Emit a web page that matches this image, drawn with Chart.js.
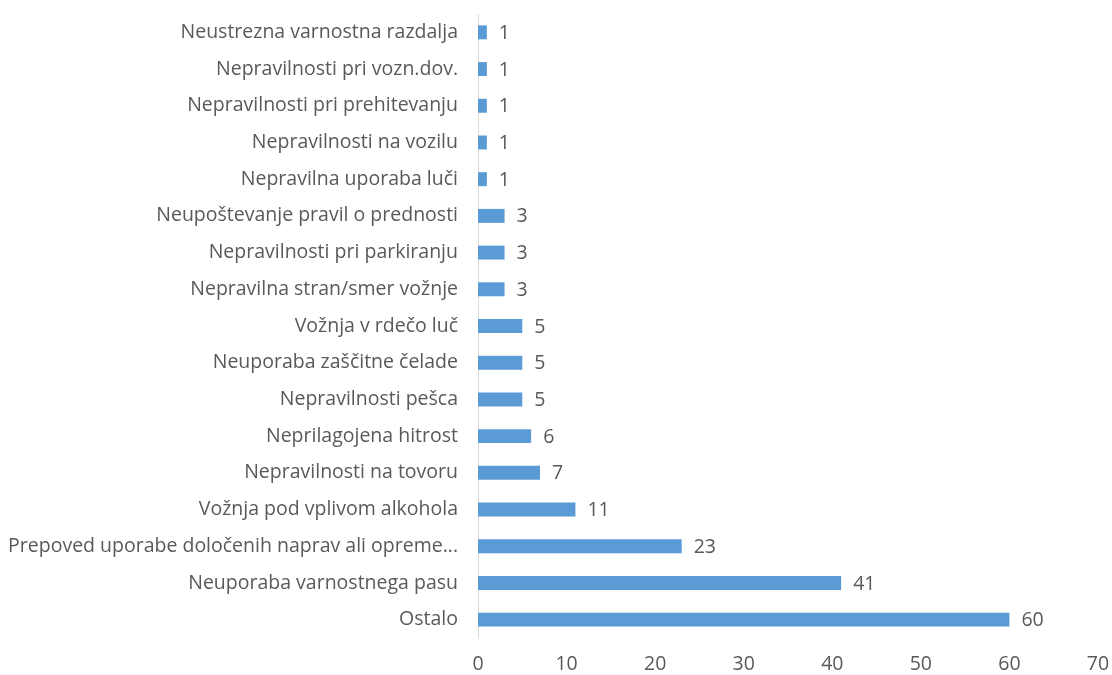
<!DOCTYPE html>
<html>
<head>
<meta charset="utf-8">
<script src="https://cdn.jsdelivr.net/npm/chart.js@4.4.0/dist/chart.umd.min.js"></script>
<style>
  html, body { margin: 0; padding: 0; background: #ffffff; }
  #wrap { width: 1112px; height: 675px; }
</style>
</head>
<body>
<div id="wrap"><canvas id="barChart" width="1112" height="675"></canvas></div>
<script>
var categories = [
  'Neustrezna varnostna razdalja',
  'Nepravilnosti pri vozn.dov.',
  'Nepravilnosti pri prehitevanju',
  'Nepravilnosti na vozilu',
  'Nepravilna uporaba luči',
  'Neupoštevanje pravil o prednosti',
  'Nepravilnosti pri parkiranju',
  'Nepravilna stran/smer vožnje',
  'Vožnja v rdečo luč',
  'Neuporaba zaščitne čelade',
  'Nepravilnosti pešca',
  'Neprilagojena hitrost',
  'Nepravilnosti na tovoru',
  'Vožnja pod vplivom alkohola',
  'Prepoved uporabe določenih naprav ali opreme...',
  'Neuporaba varnostnega pasu',
  'Ostalo'
];
var counts = [1, 1, 1, 1, 1, 3, 3, 3, 5, 5, 5, 6, 7, 11, 23, 41, 60];
var xMin = 0;
var xMax = 70;
var xStep = 10;

var textColor = '#595959';
var fontFamily = "'Open Sans', 'Noto Sans', sans-serif";
var fontSize = 19.5;

// value labels at the end of every bar
var valueLabels = {
  id: 'valueLabels',
  afterDatasetsDraw: function(chart) {
    var ctx = chart.ctx;
    var meta = chart.getDatasetMeta(0);
    ctx.save();
    ctx.fillStyle = textColor;
    ctx.font = fontSize + 'px ' + fontFamily;
    ctx.textAlign = 'left';
    ctx.textBaseline = 'middle';
    meta.data.forEach(function(bar, i) {
      ctx.fillText(String(counts[i]), bar.x + 12, bar.y + 1);
    });
    ctx.restore();
  }
};

var ctx = document.getElementById('barChart');
var chart = new Chart(ctx, {
  type: 'bar',
  data: {
    labels: categories,
    datasets: [{
      data: counts,
      backgroundColor: '#5B9BD5',
      borderWidth: 0,
      categoryPercentage: 1,
      barPercentage: 0.38
    }]
  },
  options: {
    indexAxis: 'y',
    responsive: false,
    animation: false,
    layout: { padding: { top: 14, right: 14, left: 0, bottom: 0 } },
    plugins: {
      legend: { display: false },
      tooltip: { enabled: false }
    },
    scales: {
      x: {
        min: xMin,
        max: xMax,
        ticks: {
          stepSize: xStep,
          color: textColor,
          font: { family: fontFamily, size: fontSize },
          padding: 15
        },
        grid: { display: false, drawTicks: false },
        border: { display: false },
        afterFit: function(scale) {
          scale.height = 37;
          scale.paddingLeft = 0;
          scale.paddingRight = 0;
        }
      },
      y: {
        ticks: {
          color: textColor,
          font: { family: fontFamily, size: fontSize },
          padding: 20,
          autoSkip: false
        },
        grid: { display: false, drawTicks: false },
        border: { display: true, color: '#d9d9d9', width: 1 },
        afterFit: function(scale) {
          scale.width = 478;
          scale.paddingTop = 0;
          scale.paddingBottom = 0;
        }
      }
    }
  },
  plugins: [valueLabels]
});
</script>
</body>
</html>
